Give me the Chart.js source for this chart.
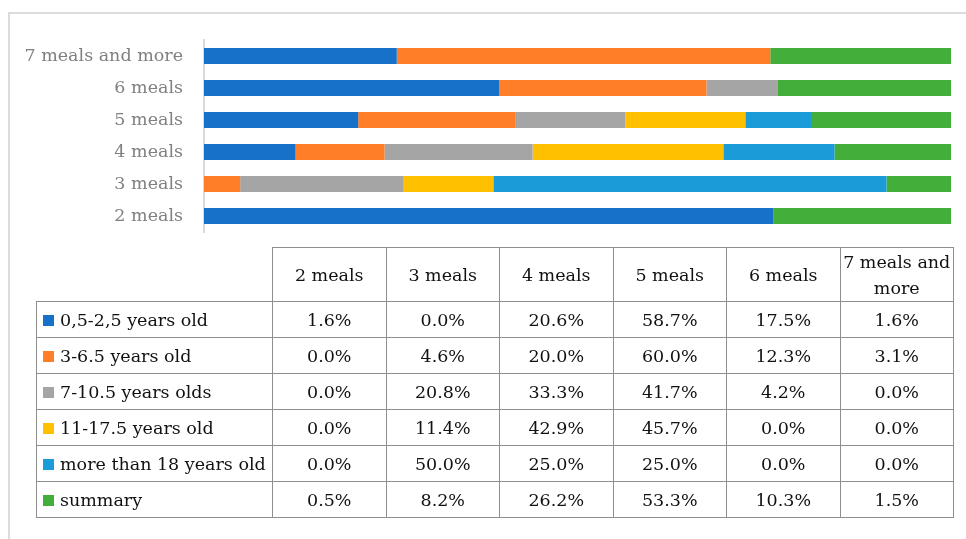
<!DOCTYPE html>
<html>
<head>
<meta charset="utf-8">
<script src="https://cdn.jsdelivr.net/npm/chart.js@4/dist/chart.umd.min.js"></script>
<style>
  html, body { margin: 0; padding: 0; background: #fff; }
  body { width: 966px; height: 539px; position: relative; overflow: hidden;
         font-family: "Palatino Linotype", "Book Antiqua", "DejaVu Serif", serif; }
  #frame { position: absolute; left: 8px; top: 12px; width: 970px; height: 540px;
           border-top: 2px solid #dcdcdc; border-left: 2px solid #dcdcdc; }
  #chartBox { position: absolute; left: 0; top: 0; width: 966px; height: 539px; }
  #dataTable { position: absolute; left: 36px; top: 247px; border-collapse: collapse;
               font-size: 17.5px; color: #111; table-layout: fixed; }
  #dataTable td { border: 1px solid #8e8e8e; text-align: center; padding: 0; height: 35px; }
  #dataTable tr.head td { height: 53px; line-height: 26px; }
  #dataTable td.corner { border: none; border-right: 1px solid #8e8e8e; border-bottom: 1px solid #8e8e8e; }
  #dataTable td.label { text-align: left; padding-left: 6px; white-space: nowrap; }
  .key { display: inline-block; width: 11px; height: 11px; margin-right: 6px; vertical-align: 0px; }
</style>
</head>
<body>
<div id="frame"></div>
<div id="chartBox"><canvas id="mealChart" width="966" height="539"></canvas></div>
<table id="dataTable"></table>
<script>
// categories (meals per day)
const categories = ["2 meals", "3 meals", "4 meals", "5 meals", "6 meals", "7 meals and more"];

// age groups (series) with their table values, in %
const seriesNames = ["0,5-2,5 years old", "3-6.5 years old", "7-10.5 years olds",
                     "11-17.5 years old", "more than 18 years old", "summary"];
const age0to2 = [1.6, 0.0, 20.6, 58.7, 17.5, 1.6];
const age3to6 = [0.0, 4.6, 20.0, 60.0, 12.3, 3.1];
const age7to10 = [0.0, 20.8, 33.3, 41.7, 4.2, 0.0];
const age11to17 = [0.0, 11.4, 42.9, 45.7, 0.0, 0.0];
const age18plus = [0.0, 50.0, 25.0, 25.0, 0.0, 0.0];
const summary = [0.5, 8.2, 26.2, 53.3, 10.3, 1.5];

const seriesValues = [age0to2, age3to6, age7to10, age11to17, age18plus, summary];
const seriesColors = ["#1771c9", "#ff7e27", "#a5a5a5", "#ffc000", "#1b9bd7", "#44ae3b"];

// bars are 100% stacked: each category column is scaled to its own total
const columnTotals = categories.map((c, j) => seriesValues.reduce((s, arr) => s + arr[j], 0));

const datasets = seriesValues.map((arr, i) => ({
    label: seriesNames[i],
    data: arr.map((v, j) => v / columnTotals[j] * 100),
    backgroundColor: seriesColors[i],
    borderWidth: 0,
    barPercentage: 0.5,
    categoryPercentage: 1.0
}));

new Chart(document.getElementById("mealChart"), {
    type: "bar",
    data: { labels: categories, datasets: datasets },
    options: {
        indexAxis: "y",
        responsive: false,
        animation: false,
        layout: { padding: { top: 40, bottom: 307, right: 15, left: 0 } },
        plugins: { legend: { display: false }, tooltip: { enabled: false } },
        scales: {
            x: { stacked: true, min: 0, max: 100, display: false },
            y: {
                stacked: true,
                reverse: true,
                grid: { display: false, drawTicks: false },
                border: { color: "#d9d9d9", width: 2 },
                ticks: {
                    color: "#808080",
                    padding: 21,
                    font: { family: "'Palatino Linotype', 'Book Antiqua', 'DejaVu Serif', serif", size: 17.5 }
                },
                afterFit: function (scale) { scale.width = 204; }
            }
        }
    }
});

// data table under the chart
const table = document.getElementById("dataTable");
const colgroup = document.createElement("colgroup");
[236].concat(categories.map(() => 113.5)).forEach(w => {
    const col = document.createElement("col");
    col.style.width = w + "px";
    colgroup.appendChild(col);
});
table.appendChild(colgroup);

const head = document.createElement("tr");
head.className = "head";
head.innerHTML = '<td class="corner"></td>' + categories.map(c => "<td>" + c + "</td>").join("");
table.appendChild(head);

seriesNames.forEach((name, i) => {
    const row = document.createElement("tr");
    let html = '<td class="label"><span class="key" style="background:' + seriesColors[i] + '"></span>' + name + "</td>";
    seriesValues[i].forEach(v => { html += "<td>" + v.toFixed(1) + "%</td>"; });
    row.innerHTML = html;
    table.appendChild(row);
});
</script>
</body>
</html>
